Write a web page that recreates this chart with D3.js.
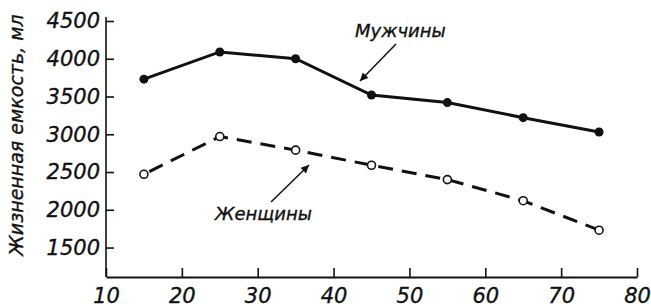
<!DOCTYPE html>
<html>
<head>
<meta charset="utf-8">
<script src="https://cdn.jsdelivr.net/npm/d3@7"></script>
<style>
  body { margin: 0; background: #fff; }
  text { font-family: "DejaVu Sans", sans-serif; font-style: italic; fill: #111; stroke: #111; stroke-width: 0.35px; }
</style>
</head>
<body>
<svg width="651" height="307"></svg>
<script>
// ages (x) and vital capacity, ml
const ages = [15, 25, 35, 45, 55, 65, 75];
const men = [3730, 4090, 4000, 3520, 3420, 3220, 3030];
const women = [2470, 2970, 2790, 2590, 2400, 2120, 1730];
const xTicks = [10, 20, 30, 40, 50, 60, 70, 80];
const yTicks = [1500, 2000, 2500, 3000, 3500, 4000, 4500];

const svg = d3.select("svg");

// plot area in page pixels
const plotLeft = 106, plotRight = 637, plotTop = 21, plotBottom = 277;

const x = d3.scaleLinear().domain([10, 80]).range([plotLeft, plotRight]);
const y = d3.scaleLinear().domain([1110, 4500]).range([plotBottom, plotTop]);

// y axis, ticks pointing inward
const yAxis = svg.append("g")
    .attr("transform", "translate(" + plotLeft + ",0)")
    .call(d3.axisLeft(y).tickValues(yTicks).tickFormat(d3.format("d"))
        .tickSize(-8).tickSizeOuter(0).tickPadding(6));
yAxis.select(".domain").attr("stroke", "#111").attr("stroke-width", 1.6)
    .attr("d", "M0," + (plotTop - 4) + "V" + plotBottom);
yAxis.selectAll(".tick line").attr("stroke", "#111").attr("stroke-width", 1.6);
yAxis.selectAll(".tick text").style("font-size", "21px").attr("font-family", null);

// x axis
const xAxis = svg.append("g")
    .attr("transform", "translate(0," + plotBottom + ")")
    .call(d3.axisBottom(x).tickValues(xTicks).tickFormat(d3.format("d"))
        .tickSize(-9).tickSizeOuter(0).tickPadding(11));
xAxis.select(".domain").attr("stroke", "#111").attr("stroke-width", 2);
xAxis.selectAll(".tick line").attr("stroke", "#111").attr("stroke-width", 1.6);
xAxis.selectAll(".tick text").style("font-size", "21px").attr("font-family", null);

const line = d3.line().x((d, i) => x(ages[i])).y(d => y(d));

// men: solid line with filled dots
svg.append("path")
    .datum(men)
    .attr("d", line)
    .attr("fill", "none")
    .attr("stroke", "#111")
    .attr("stroke-width", 3);
svg.selectAll(".men-dot")
    .data(men)
    .enter()
    .append("circle")
    .attr("cx", (d, i) => x(ages[i]))
    .attr("cy", d => y(d))
    .attr("r", 4.5)
    .attr("fill", "#111");

// women: dashed line with open circles
svg.append("path")
    .datum(women)
    .attr("d", line)
    .attr("fill", "none")
    .attr("stroke", "#111")
    .attr("stroke-width", 3)
    .attr("stroke-dasharray", "15,9")
    .attr("stroke-dashoffset", -6);
svg.selectAll(".women-dot")
    .data(women)
    .enter()
    .append("circle")
    .attr("cx", (d, i) => x(ages[i]))
    .attr("cy", d => y(d))
    .attr("r", 4)
    .attr("fill", "#fff")
    .attr("stroke", "#111")
    .attr("stroke-width", 1.6);

// arrowheads
svg.append("defs").append("marker")
    .attr("id", "arrow")
    .attr("viewBox", "0 0 10 10")
    .attr("refX", 10).attr("refY", 5)
    .attr("markerWidth", 12).attr("markerHeight", 8)
    .attr("markerUnits", "userSpaceOnUse")
    .attr("orient", "auto")
    .append("path")
    .attr("d", "M0,0L10,5L0,10z")
    .attr("fill", "#111");

// series labels with arrows
svg.append("text")
    .attr("x", 355).attr("y", 37)
    .style("font-size", "18px")
    .text("Мужчины");
svg.append("line")
    .attr("x1", 396).attr("y1", 44)
    .attr("x2", 360).attr("y2", 81)
    .attr("stroke", "#111").attr("stroke-width", 1.5)
    .attr("marker-end", "url(#arrow)");

svg.append("text")
    .attr("x", 215).attr("y", 220)
    .style("font-size", "18px")
    .text("Женщины");
svg.append("line")
    .attr("x1", 271).attr("y1", 202)
    .attr("x2", 309).attr("y2", 165)
    .attr("stroke", "#111").attr("stroke-width", 1.5)
    .attr("marker-end", "url(#arrow)");

// y axis title
svg.append("text")
    .attr("transform", "translate(23,135) rotate(-90)")
    .style("text-anchor", "middle")
    .style("font-size", "19px")
    .text("Жизненная емкость, мл");
</script>
</body>
</html>
